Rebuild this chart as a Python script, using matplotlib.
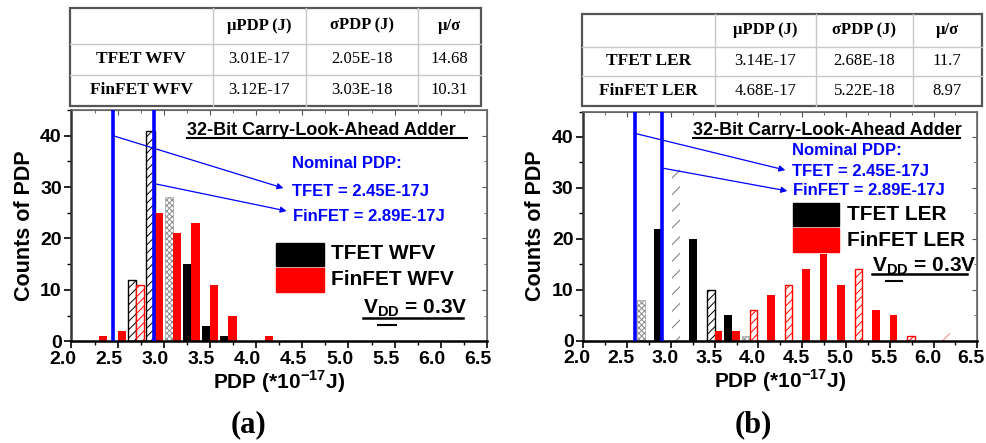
import matplotlib.pyplot as plt
from matplotlib.ticker import MultipleLocator
from matplotlib.transforms import ScaledTranslation
import numpy as np

plt.rcParams['font.family'] = ['Liberation Sans', 'DejaVu Sans']
plt.rcParams['font.weight'] = 'bold'
plt.rcParams['axes.labelweight'] = 'bold'
plt.rcParams['hatch.linewidth'] = 0.7
plt.rcParams['axes.unicode_minus'] = False
plt.rcParams['mathtext.fontset'] = 'custom'
plt.rcParams['mathtext.rm'] = 'Liberation Sans:bold'
plt.rcParams['mathtext.bf'] = 'Liberation Sans:bold'

# ---- данные: гистограммы PDP (центры бинов, шаг 0.2) ----
bins_a = [2.3, 2.5, 2.7, 2.9, 3.1, 3.3, 3.5, 3.7, 3.9, 4.1]
tfet_wfv = [0, 0, 12, 41, 28, 15, 3, 1, 0, 0]
finfet_wfv = [1, 2, 11, 25, 21, 23, 11, 5, 0, 1]
nominal_a = [2.45, 2.89]

bins_b = [2.7, 2.9, 3.1, 3.3, 3.5, 3.7, 3.9, 4.1, 4.3, 4.5, 4.7, 4.9,
          5.1, 5.3, 5.5, 5.7, 5.9, 6.1]
tfet_ler = [8, 22, 34, 20, 10, 5, 1, 0, 0, 0, 0, 0, 0, 0, 0, 0, 0, 0]
finfet_ler = [0, 0, 0, 0, 2, 2, 6, 9, 11, 14, 17, 11, 14, 6, 5, 1, 0, 2]
nominal_b = [2.59, 2.9]

# таблицы
col_names = ['μPDP (J)', 'σPDP (J)', 'μ/σ']
rows_a = ['TFET WFV', 'FinFET WFV']
vals_a = [['3.01E-17', '2.05E-18', '14.68'], ['3.12E-17', '3.03E-18', '10.31']]
rows_b = ['TFET LER', 'FinFET LER']
vals_b = [['3.14E-17', '2.68E-18', '11.7'], ['4.68E-17', '5.22E-18', '8.97']]

# стили столбиков (s - сплошной, h - штриховка, g - серая сетка, f - бледный)
sty_tfet_a = ['s', 's', 'h', 'h', 'g', 's', 's', 's', 's', 's']
sty_fin_a = ['s', 's', 'h', 's', 's', 's', 's', 's', 's', 's']
sty_tfet_b = ['g', 's', 'f', 's', 'h', 's', 'g'] + ['s'] * 11
sty_fin_b = ['s'] * 6 + ['h', 's', 'h', 's', 's', 's', 'h', 's', 's', 'h', 's', 'f']

w = 0.088


def style_bars(bars, color, styles, light):
    for p, s in zip(bars, styles):
        if s == 'h':
            p.set_facecolor('white'); p.set_edgecolor(color)
            p.set_hatch('////'); p.set_linewidth(1.0)
        elif s == 'g':
            p.set_facecolor('white'); p.set_edgecolor('#8a8a8a')
            p.set_hatch('xxxxxx'); p.set_linewidth(0.4)
        elif s == 'f':
            p.set_facecolor('white'); p.set_edgecolor(light)
            p.set_hatch('//'); p.set_linewidth(0)
        else:
            p.set_facecolor(color); p.set_edgecolor(color); p.set_linewidth(0)


def setup_axes(ax, shift_px):
    ax.set_xlim(2.0, 6.5)
    ax.set_ylim(0, 45)
    ax.set_xticks(np.arange(2.0, 6.51, 0.5))
    ax.set_xticklabels(['%.1f' % v for v in np.arange(2.0, 6.51, 0.5)])
    ax.set_yticks([0, 10, 20, 30, 40])
    ax.xaxis.set_minor_locator(MultipleLocator(0.25))
    ax.yaxis.set_minor_locator(MultipleLocator(5))
    ax.tick_params(which='major', direction='out', length=5, width=1.2,
                   labelsize=14, pad=2)
    ax.tick_params(which='minor', direction='out', length=3, width=1.0)
    for lab in ax.get_xticklabels() + ax.get_yticklabels():
        lab.set_fontweight('bold')
    # подписи оси x в оригинале сдвинуты влево
    off = ScaledTranslation(-shift_px / 100, 0, fig.dpi_scale_trans)
    for lab in ax.get_xticklabels():
        lab.set_transform(lab.get_transform() + off)
    for s in ['left', 'bottom']:
        ax.spines[s].set_linewidth(1.8)
    ax.spines['left'].set_color('#333333')
    for s in ['top', 'right']:
        ax.spines[s].set_linewidth(1.2)
        ax.spines[s].set_color('#666666')
    sx = ax.secondary_xaxis('top')
    sx.set_xticks(np.arange(2.0, 6.51, 0.5))
    sx.xaxis.set_minor_locator(MultipleLocator(0.25))
    sx.tick_params(which='both', direction='in', labeltop=False, color='#555555')
    sx.spines['top'].set_color('#666666')
    sy = ax.secondary_yaxis('right')
    sy.set_yticks([0, 10, 20, 30, 40])
    sy.yaxis.set_minor_locator(MultipleLocator(5))
    sy.tick_params(which='both', direction='in', labelright=False, color='#555555')
    sy.spines['right'].set_color('#666666')
    ax.set_xlabel(r'PDP (*10$^{\mathbf{-17}}$J)', fontsize=15, labelpad=0,
                  fontweight='bold')
    ax.set_ylabel('Counts of PDP', fontsize=15.5, labelpad=4, fontweight='bold')


def annotate(ax, nominal, pos, legend_labels):
    ax.text(pos['title'][0], pos['title'][1], '32-Bit Carry-Look-Ahead Adder',
            transform=ax.transAxes, fontsize=13, va='center', ha='left',
            fontweight='bold')
    ax.plot(pos['title_ul'][:2], [pos['title_ul'][2]] * 2, color='black',
            lw=1.5, transform=ax.transAxes, clip_on=False)
    txts = ['Nominal PDP:', 'TFET = 2.45E-17J', 'FinFET = 2.89E-17J']
    for t, (x, y) in zip(txts, pos['blue']):
        ax.text(x, y, t, transform=ax.transAxes, color='blue', fontsize=12,
                va='center', ha='left', fontweight='bold')
    for x in nominal:
        ax.axvline(x, color='blue', lw=2.6, zorder=3)
    for tail, head in pos['arrows']:
        ax.annotate('', xy=head, xytext=tail,
                    arrowprops=dict(arrowstyle='-|>', color='blue', lw=0.9,
                                    mutation_scale=9, shrinkA=0, shrinkB=0))
    for (x0, x1, y0, y1), c in zip(pos['leg_box'], ['black', 'red']):
        ax.add_patch(plt.Rectangle((x0, y0), x1 - x0, y1 - y0, color=c,
                                   transform=ax.transAxes, clip_on=False))
    for lab, (x, y) in zip(legend_labels, pos['leg_txt']):
        ax.text(x, y, lab, transform=ax.transAxes, fontsize=15,
                va='center', ha='left', fontweight='bold')
    vx, vy = pos['vdd']
    ax.text(vx, vy, r'V$_{\mathbf{DD}}$ = 0.3V', transform=ax.transAxes,
            fontsize=15, va='center', ha='left', fontweight='bold')
    ax.plot(pos['vdd_ul'][:2], [pos['vdd_ul'][2]] * 2, color='black',
            lw=1.8, transform=ax.transAxes, clip_on=False)
    ax.plot(pos['dd_ul'][:2], [pos['dd_ul'][2]] * 2, color='black',
            lw=1.5, transform=ax.transAxes, clip_on=False)


def draw_table(ov, xs, ys, rows, vals):
    # сетка
    for x in xs[1:-1]:
        ov.plot([x, x], [ys[0], ys[-1]], color='#c8c8c8', lw=1)
    for y in ys[1:-1]:
        ov.plot([xs[0], xs[-1]], [y, y], color='#c8c8c8', lw=1)
    ov.add_patch(plt.Rectangle((xs[0], ys[0]), xs[-1] - xs[0], ys[-1] - ys[0],
                               fill=False, edgecolor='#555555', lw=1.6))
    cx = [(xs[i] + xs[i + 1]) / 2 for i in range(len(xs) - 1)]
    cy = [(ys[i] + ys[i + 1]) / 2 for i in range(len(ys) - 1)]
    for j, name in enumerate(col_names):
        ov.text(cx[j + 1], cy[0], name, family='Liberation Serif',
                fontweight='bold', fontsize=12, ha='center', va='center')
    for i, (r, vv) in enumerate(zip(rows, vals)):
        ov.text(cx[0], cy[i + 1], r, family='Liberation Serif',
                fontweight='bold', fontsize=12.5, ha='center', va='center')
        for j, v in enumerate(vv):
            ov.text(cx[j + 1], cy[i + 1], v, family='Liberation Serif',
                    fontweight='normal', fontsize=12, ha='center', va='center')


fig = plt.figure(figsize=(9.87, 4.43), dpi=100)

# наложение в пикселях для таблиц и подписей (a), (b)
ov = fig.add_axes([0, 0, 1, 1])
ov.set_xlim(0, 987)
ov.set_ylim(443, 0)
ov.axis('off')
draw_table(ov, [70, 212.5, 306, 418, 480.5], [8, 43.5, 75, 105.5], rows_a, vals_a)
draw_table(ov, [581.5, 715, 816, 913, 981.5], [14, 46.5, 76, 105.5], rows_b, vals_b)
ov.text(249, 425, '(a)', family='Liberation Serif', fontweight='bold',
        fontsize=22, ha='center', va='center')
ov.text(753, 425, '(b)', family='Liberation Serif', fontweight='bold',
        fontsize=22, ha='center', va='center')

# ---- (a) ----
ax1 = fig.add_axes([0.0724, 0.2296, 0.421, 0.5221])
b1 = ax1.bar(np.array(bins_a) - w / 2, tfet_wfv, w, zorder=2)
b2 = ax1.bar(np.array(bins_a) + w / 2, finfet_wfv, w, zorder=2)
style_bars(b1, 'black', sty_tfet_a, '#999999')
style_bars(b2, 'red', sty_fin_a, '#ff9999')
setup_axes(ax1, 9)
annotate(ax1, nominal_a, {
    'title': (0.278, 0.913), 'title_ul': (0.278, 0.952, 0.877),
    'blue': [(0.530, 0.770), (0.530, 0.648), (0.533, 0.539)],
    'arrows': [((nominal_a[0], 40), (4.295, 29.8)),
               ((nominal_a[1], 30.7), (4.33, 25.35))],
    'leg_box': [(0.492, 0.608, 0.327, 0.426), (0.492, 0.608, 0.212, 0.316)],
    'leg_txt': [(0.625, 0.380), (0.625, 0.265)],
    'vdd': (0.702, 0.144), 'vdd_ul': (0.702, 0.943, 0.099),
    'dd_ul': (0.737, 0.780, 0.070)}, ['TFET WFV', 'FinFET WFV'])

# ---- (b) ----
ax2 = fig.add_axes([0.591, 0.2309, 0.3992, 0.5174])
b3 = ax2.bar(np.array(bins_b) - w / 2, tfet_ler, w, zorder=2)
b4 = ax2.bar(np.array(bins_b) + w / 2, finfet_ler, w, zorder=2)
style_bars(b3, 'black', sty_tfet_b, '#777777')
style_bars(b4, 'red', sty_fin_b, '#ff8080')
setup_axes(ax2, 6)
annotate(ax2, nominal_b, {
    'title': (0.278, 0.919), 'title_ul': (0.278, 0.956, 0.886),
    'blue': [(0.529, 0.832), (0.529, 0.740), (0.531, 0.654)],
    'arrows': [((nominal_b[0], 40.7), (4.307, 33.5)),
               ((nominal_b[1], 33.9), (4.33, 29.4))],
    'leg_box': [(0.531, 0.649, 0.500, 0.602), (0.531, 0.649, 0.388, 0.490)],
    'leg_txt': [(0.669, 0.551), (0.669, 0.439)],
    'vdd': (0.732, 0.325), 'vdd_ul': (0.732, 0.973, 0.290),
    'dd_ul': (0.767, 0.809, 0.260)}, ['TFET LER', 'FinFET LER'])

plt.savefig('out.png', dpi=100)
